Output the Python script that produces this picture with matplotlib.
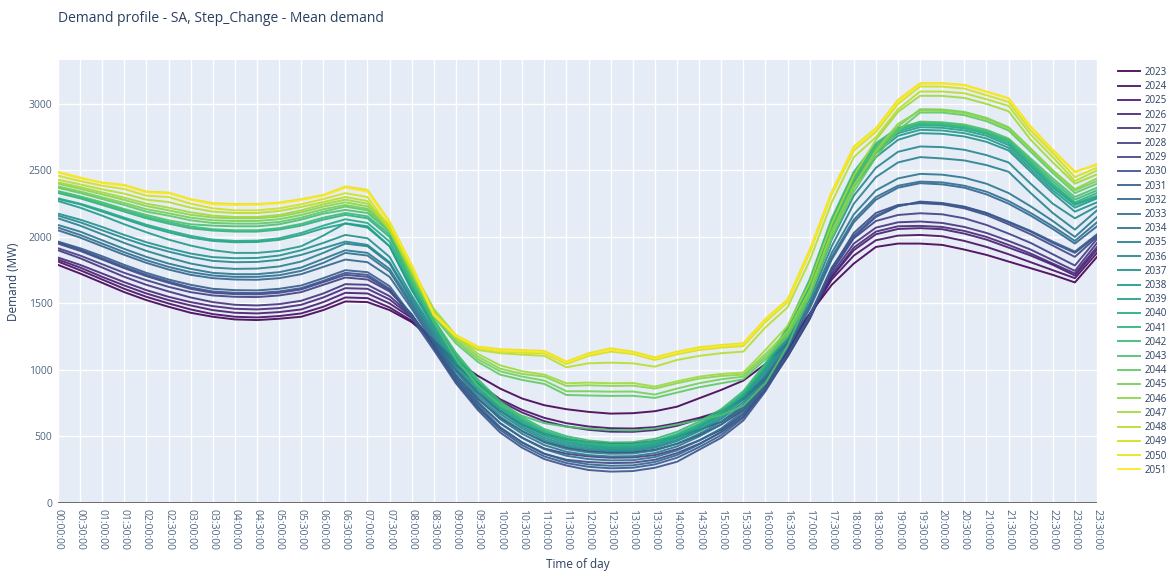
import matplotlib
matplotlib.use("Agg")
import matplotlib.pyplot as plt
import numpy as np

plt.rcParams['font.family'] = ['Open Sans', 'DejaVu Sans']

# half-hourly time labels
times = ["%02d:%02d:00" % (h, m) for h in range(24) for m in (0, 30)]

years = list(range(2023, 2052))

# mean demand (MW) per year
d2023 = [1790, 1725, 1655, 1585, 1525, 1475, 1430, 1400, 1380, 1375, 1385, 1400, 1450, 1515, 1510, 1450, 1360, 1220, 1070, 955, 860, 785, 735, 705, 685, 672, 675, 690, 724, 787, 850, 920, 1045, 1200, 1420, 1640, 1800, 1925, 1950, 1950, 1940, 1905, 1865, 1815, 1765, 1715, 1658, 1850]
d2024 = [1815, 1750, 1680, 1610, 1550, 1500, 1455, 1420, 1400, 1395, 1405, 1425, 1475, 1545, 1540, 1470, 1370, 1210, 1040, 900, 780, 700, 640, 600, 575, 562, 560, 570, 600, 640, 690, 780, 930, 1140, 1410, 1680, 1860, 1975, 2010, 2015, 2005, 1970, 1925, 1870, 1810, 1750, 1690, 1880]
d2025 = [1830, 1770, 1700, 1635, 1575, 1525, 1485, 1450, 1430, 1425, 1435, 1455, 1510, 1580, 1575, 1500, 1390, 1220, 1040, 890, 765, 680, 615, 575, 550, 536, 535, 548, 580, 630, 690, 790, 950, 1160, 1420, 1700, 1900, 2020, 2060, 2066, 2058, 2025, 1980, 1920, 1860, 1790, 1710, 1905]
d2026 = [1845, 1790, 1725, 1660, 1600, 1550, 1510, 1480, 1460, 1455, 1465, 1490, 1545, 1615, 1610, 1530, 1400, 1200, 1000, 830, 690, 590, 520, 480, 458, 449, 450, 465, 500, 550, 610, 720, 900, 1130, 1400, 1700, 1920, 2040, 2080, 2083, 2075, 2045, 2000, 1940, 1875, 1800, 1725, 1925]
d2027 = [1900, 1840, 1770, 1700, 1640, 1590, 1545, 1510, 1490, 1485, 1495, 1520, 1575, 1645, 1640, 1555, 1410, 1190, 960, 780, 640, 540, 460, 415, 390, 380, 382, 400, 445, 510, 590, 700, 880, 1110, 1390, 1720, 1950, 2070, 2110, 2116, 2105, 2075, 2030, 1970, 1905, 1825, 1745, 1955]
d2028 = [1915, 1860, 1795, 1730, 1675, 1625, 1585, 1560, 1550, 1548, 1560, 1585, 1640, 1695, 1680, 1590, 1420, 1180, 940, 750, 600, 490, 410, 370, 350, 340, 342, 360, 405, 470, 550, 670, 860, 1100, 1380, 1740, 1990, 2120, 2165, 2178, 2170, 2140, 2090, 2025, 1955, 1870, 1785, 1985]
d2029 = [1950, 1895, 1830, 1765, 1705, 1655, 1610, 1580, 1570, 1568, 1580, 1605, 1660, 1715, 1700, 1600, 1410, 1170, 920, 720, 565, 455, 370, 325, 308, 300, 303, 325, 375, 445, 530, 650, 850, 1100, 1390, 1760, 2030, 2180, 2240, 2254, 2245, 2215, 2165, 2095, 2020, 1935, 1850, 2000]
d2030 = [1960, 1905, 1840, 1775, 1715, 1665, 1620, 1590, 1580, 1578, 1590, 1615, 1670, 1730, 1715, 1610, 1390, 1150, 900, 698, 530, 415, 330, 282, 248, 236, 240, 265, 310, 400, 490, 620, 840, 1110, 1400, 1760, 2000, 2150, 2230, 2266, 2255, 2228, 2180, 2110, 2040, 1955, 1880, 2010]
d2031 = [1965, 1915, 1855, 1790, 1730, 1680, 1640, 1610, 1600, 1598, 1610, 1635, 1690, 1750, 1735, 1630, 1410, 1165, 915, 715, 550, 435, 350, 300, 272, 261, 265, 290, 340, 420, 510, 640, 860, 1120, 1410, 1770, 2010, 2160, 2235, 2260, 2250, 2225, 2180, 2115, 2045, 1965, 1890, 2020]
d2032 = [2050, 1995, 1930, 1865, 1805, 1755, 1715, 1690, 1680, 1678, 1690, 1720, 1775, 1830, 1810, 1700, 1460, 1200, 940, 735, 570, 455, 370, 318, 290, 280, 283, 308, 360, 440, 535, 670, 890, 1160, 1460, 1830, 2110, 2280, 2370, 2404, 2395, 2370, 2320, 2250, 2160, 2060, 1950, 2080]
d2033 = [2070, 2015, 1950, 1885, 1825, 1775, 1735, 1710, 1700, 1700, 1712, 1745, 1805, 1880, 1860, 1740, 1480, 1220, 965, 760, 600, 490, 405, 355, 330, 320, 322, 345, 395, 470, 560, 690, 910, 1180, 1480, 1850, 2130, 2300, 2385, 2416, 2410, 2385, 2340, 2270, 2180, 2080, 1970, 2110]
d2034 = [2090, 2040, 1975, 1910, 1850, 1800, 1760, 1730, 1720, 1720, 1735, 1770, 1835, 1900, 1880, 1760, 1500, 1240, 990, 790, 630, 520, 435, 385, 360, 350, 352, 375, 425, 500, 590, 720, 930, 1200, 1500, 1880, 2170, 2350, 2440, 2474, 2468, 2445, 2400, 2330, 2230, 2120, 2000, 2150]
d2035 = [2140, 2085, 2020, 1955, 1895, 1845, 1800, 1770, 1760, 1762, 1778, 1815, 1880, 1950, 1930, 1800, 1520, 1260, 1010, 810, 650, 540, 455, 405, 380, 370, 372, 395, 445, 520, 610, 740, 950, 1220, 1530, 1930, 2250, 2450, 2560, 2600, 2590, 2575, 2540, 2490, 2330, 2180, 2055, 2200]
d2036 = [2160, 2110, 2050, 1990, 1935, 1890, 1850, 1820, 1810, 1812, 1828, 1865, 1915, 1965, 1940, 1810, 1540, 1280, 1030, 830, 670, 560, 475, 425, 400, 390, 392, 415, 465, 540, 630, 760, 970, 1240, 1560, 1980, 2310, 2520, 2640, 2680, 2675, 2655, 2615, 2560, 2400, 2250, 2140, 2230]
d2037 = [2175, 2130, 2075, 2015, 1960, 1915, 1875, 1848, 1840, 1842, 1860, 1900, 1955, 2015, 1990, 1850, 1560, 1300, 1050, 850, 690, 575, 490, 438, 412, 400, 402, 425, 475, 550, 645, 780, 990, 1260, 1590, 2030, 2380, 2600, 2730, 2780, 2775, 2755, 2715, 2650, 2490, 2330, 2190, 2260]
d2038 = [2270, 2220, 2160, 2095, 2035, 1980, 1935, 1900, 1880, 1880, 1895, 1930, 2010, 2103, 2080, 1930, 1600, 1320, 1070, 870, 705, 590, 505, 452, 424, 410, 412, 436, 488, 565, 660, 795, 1005, 1280, 1610, 2060, 2410, 2630, 2760, 2805, 2800, 2780, 2740, 2670, 2510, 2350, 2220, 2290]
d2039 = [2285, 2245, 2190, 2135, 2080, 2035, 1995, 1970, 1960, 1962, 1978, 2015, 2065, 2100, 2070, 1930, 1610, 1335, 1085, 885, 720, 605, 518, 464, 434, 420, 422, 446, 498, 575, 670, 805, 1015, 1290, 1625, 2080, 2430, 2650, 2780, 2825, 2820, 2800, 2760, 2690, 2530, 2370, 2240, 2300]
d2040 = [2290, 2250, 2200, 2145, 2092, 2048, 2008, 1980, 1970, 1972, 1990, 2030, 2085, 2133, 2105, 1965, 1630, 1350, 1100, 900, 735, 618, 530, 476, 445, 430, 432, 456, 508, 585, 680, 815, 1025, 1300, 1640, 2100, 2450, 2670, 2795, 2840, 2835, 2815, 2775, 2705, 2545, 2385, 2250, 2310]
d2041 = [2330, 2290, 2240, 2190, 2140, 2100, 2065, 2048, 2040, 2040, 2055, 2085, 2130, 2166, 2140, 2000, 1650, 1365, 1115, 915, 750, 630, 542, 488, 456, 440, 442, 466, 518, 595, 690, 825, 1035, 1310, 1660, 2120, 2470, 2690, 2810, 2850, 2845, 2825, 2785, 2720, 2560, 2400, 2260, 2330]
d2042 = [2340, 2300, 2252, 2202, 2152, 2112, 2078, 2058, 2050, 2050, 2066, 2098, 2145, 2180, 2155, 2020, 1670, 1380, 1130, 930, 765, 645, 556, 502, 470, 455, 457, 482, 535, 612, 705, 840, 1050, 1325, 1680, 2140, 2490, 2705, 2820, 2860, 2855, 2835, 2795, 2730, 2575, 2420, 2280, 2350]
d2043 = [2345, 2305, 2260, 2210, 2165, 2125, 2095, 2085, 2080, 2080, 2095, 2130, 2175, 2203, 2180, 2040, 1690, 1360, 1080, 880, 735, 655, 600, 574, 558, 549, 545, 560, 590, 625, 660, 730, 900, 1180, 1560, 2060, 2430, 2680, 2815, 2867, 2862, 2845, 2805, 2740, 2590, 2440, 2300, 2370]
d2044 = [2370, 2330, 2285, 2240, 2190, 2160, 2125, 2105, 2100, 2100, 2112, 2145, 2190, 2228, 2200, 2050, 1700, 1400, 1200, 1060, 965, 925, 895, 812, 808, 805, 806, 790, 830, 870, 900, 930, 1080, 1250, 1550, 1990, 2340, 2600, 2800, 2935, 2935, 2915, 2870, 2800, 2640, 2480, 2330, 2400]
d2045 = [2380, 2342, 2298, 2255, 2208, 2178, 2145, 2125, 2120, 2120, 2133, 2165, 2208, 2240, 2212, 2065, 1720, 1420, 1220, 1080, 990, 950, 920, 840, 840, 837, 838, 815, 860, 900, 930, 950, 1100, 1270, 1580, 2020, 2370, 2630, 2830, 2960, 2958, 2940, 2895, 2825, 2665, 2500, 2350, 2420]
d2046 = [2400, 2362, 2320, 2278, 2232, 2200, 2166, 2146, 2140, 2140, 2153, 2185, 2228, 2260, 2230, 2080, 1740, 1440, 1240, 1100, 1010, 970, 950, 880, 885, 880, 882, 860, 900, 935, 955, 965, 1120, 1290, 1600, 2040, 2390, 2650, 2850, 2950, 2948, 2930, 2885, 2815, 2660, 2500, 2360, 2440]
d2047 = [2410, 2375, 2335, 2295, 2250, 2220, 2185, 2160, 2150, 2150, 2165, 2200, 2245, 2280, 2250, 2090, 1760, 1460, 1260, 1120, 1035, 990, 965, 900, 905, 900, 902, 875, 915, 950, 970, 980, 1150, 1330, 1650, 2100, 2460, 2730, 2940, 3061, 3060, 3045, 3000, 2945, 2730, 2560, 2400, 2470]
d2048 = [2430, 2395, 2358, 2325, 2280, 2262, 2220, 2190, 2180, 2180, 2195, 2225, 2262, 2300, 2270, 2050, 1740, 1420, 1240, 1150, 1126, 1115, 1106, 1020, 1050, 1055, 1050, 1025, 1075, 1106, 1126, 1138, 1320, 1470, 1820, 2260, 2600, 2750, 2960, 3093, 3093, 3080, 3035, 2985, 2770, 2600, 2420, 2500]
d2049 = [2460, 2420, 2385, 2360, 2310, 2300, 2250, 2215, 2200, 2200, 2215, 2245, 2285, 2329, 2300, 2070, 1760, 1410, 1250, 1165, 1140, 1130, 1125, 1045, 1105, 1138, 1120, 1075, 1118, 1150, 1168, 1180, 1360, 1510, 1880, 2320, 2650, 2790, 3000, 3131, 3130, 3115, 3065, 3015, 2800, 2630, 2450, 2520]
d2050 = [2485, 2442, 2409, 2391, 2341, 2334, 2284, 2254, 2248, 2248, 2258, 2284, 2316, 2379, 2354, 2116, 1790, 1426, 1263, 1176, 1156, 1150, 1143, 1063, 1126, 1163, 1138, 1095, 1138, 1171, 1188, 1201, 1384, 1530, 1903, 2340, 2680, 2818, 3031, 3156, 3156, 3143, 3093, 3043, 2830, 2655, 2491, 2542]
d2051 = [2490, 2448, 2405, 2385, 2335, 2328, 2280, 2245, 2240, 2242, 2252, 2278, 2310, 2370, 2340, 2100, 1780, 1415, 1255, 1170, 1145, 1140, 1135, 1055, 1115, 1150, 1128, 1085, 1128, 1160, 1178, 1192, 1375, 1520, 1890, 2330, 2670, 2810, 3020, 3150, 3152, 3140, 3090, 3040, 2825, 2650, 2485, 2550]

demand = [d2023, d2024, d2025, d2026, d2027, d2028, d2029, d2030, d2031, d2032,
          d2033, d2034, d2035, d2036, d2037, d2038, d2039, d2040, d2041, d2042,
          d2043, d2044, d2045, d2046, d2047, d2048, d2049, d2050, d2051]

fig = plt.figure(figsize=(11.72, 5.72), dpi=100)
ax = fig.add_axes([58/1172, 1 - 503/572, (1097 - 58)/1172, (503 - 60)/572])
ax.set_facecolor('#E5ECF6')

colors = plt.cm.viridis(np.linspace(0, 1, len(years)))
x = np.arange(len(times))
for yr, vals, c in zip(years, demand, colors):
    ax.plot(x, vals, color=c, lw=1.4, alpha=0.9, label=str(yr))

ax.set_xlim(0, len(times) - 1)
ax.set_ylim(0, 3330)
ax.set_xticks(x)
ax.set_xticklabels(times, rotation=-90, fontsize=7.5, color='#506784')
ax.set_yticks(np.arange(0, 3001, 500))
ax.set_yticklabels([str(v) for v in range(0, 3001, 500)], fontsize=7.5, color='#506784')
ax.tick_params(length=0, pad=4)
ax.grid(True, color='white', lw=1)
ax.set_axisbelow(True)
for s in ax.spines.values():
    s.set_visible(False)
ax.axhline(0, color='#444444', lw=1.8, zorder=5)

ax.set_ylabel('Demand (MW)', fontsize=8.5, color='#2a3f5f', labelpad=6)
ax.set_xlabel('Time of day', fontsize=8.5, color='#2a3f5f', labelpad=6)

fig.text(58/1172, 1 - 18/572, 'Demand profile - SA, Step_Change - Mean demand',
         fontsize=10, color='#2a3f5f', va='center', ha='left')

fig.legend(loc='upper left', bbox_to_anchor=(1114/1172, 1 - 63/572), frameon=False,
           fontsize=7, labelspacing=0.33, handlelength=2.3, handletextpad=0.4,
           borderaxespad=0, labelcolor='#2a3f5f')

fig.savefig('out.png', dpi=100)
